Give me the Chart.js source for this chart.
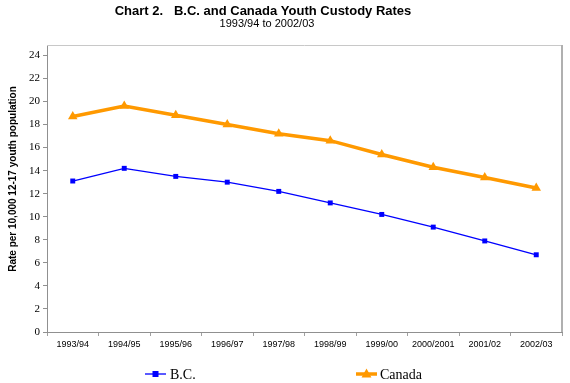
<!DOCTYPE html>
<html>
<head>
<meta charset="utf-8">
<script src="https://cdn.jsdelivr.net/npm/chart.js@4/dist/chart.umd.min.js"></script>
<style>
html,body{margin:0;padding:0;background:#fff;}
#wrap{width:570px;height:383px;position:relative;}
</style>
</head>
<body>
<div id="wrap"><canvas id="c" width="570" height="383"></canvas></div>
<script>
const categories = ["1993/94","1994/95","1995/96","1996/97","1997/98","1998/99","1999/00","2000/2001","2001/02","2002/03"];
const bcValues = [13.1, 14.2, 13.5, 13.0, 12.2, 11.2, 10.2, 9.1, 7.9, 6.7];
const canadaValues = [18.7, 19.6, 18.8, 18.0, 17.2, 16.6, 15.4, 14.3, 13.4, 12.5];
const yTickValues = [0, 2, 4, 6, 8, 10, 12, 14, 16, 18, 20, 22, 24];
const titleText = "Chart 2.   B.C. and Canada Youth Custody Rates";
const subtitleText = "1993/94 to 2002/03";
const yTitleText = "Rate per 10,000 12-17 youth population";

function drawMarker(ctx, style, x, y, r, color) {
  ctx.save();
  ctx.fillStyle = color;
  ctx.beginPath();
  if (style === 'rect') {
    ctx.rect(x - r, y - r, 2 * r, 2 * r);
  } else {
    ctx.moveTo(x, y - r * 1.2);
    ctx.lineTo(x + r * 1.1, y + r * 0.75);
    ctx.lineTo(x - r * 1.1, y + r * 0.75);
    ctx.closePath();
  }
  ctx.fill();
  ctx.restore();
}

const decor = {
  id: 'decor',
  beforeDraw(chart) {
    const ctx = chart.ctx;
    ctx.save();
    ctx.fillStyle = '#fff';
    ctx.fillRect(0, 0, chart.width, chart.height);
    ctx.restore();
  },
  beforeDatasetsDraw(chart) {
    const ctx = chart.ctx, a = chart.chartArea;
    ctx.save();
    ctx.strokeStyle = '#c8c8c8';
    ctx.lineWidth = 1;
    ctx.beginPath();
    ctx.moveTo(a.left, a.top + 0.5);
    ctx.lineTo(a.right, a.top + 0.5);
    ctx.stroke();
    ctx.strokeStyle = '#b0b0b0';
    ctx.lineWidth = 2;
    ctx.beginPath();
    ctx.moveTo(a.right, a.top);
    ctx.lineTo(a.right, a.bottom);
    ctx.stroke();
    ctx.restore();
  },
  afterDraw(chart) {
    const ctx = chart.ctx;
    ctx.save();
    ctx.fillStyle = '#000';
    ctx.textAlign = 'center';
    ctx.textBaseline = 'middle';
    ctx.font = 'bold 13px "Liberation Sans", Arial, sans-serif';
    ctx.fillText(titleText, 263, 11);
    ctx.font = '11px "Liberation Sans", Arial, sans-serif';
    ctx.fillText(subtitleText, 267, 24);
    // y title
    ctx.save();
    ctx.translate(13, 179);
    ctx.rotate(-Math.PI / 2);
    ctx.font = 'bold 10px "Liberation Sans", Arial, sans-serif';
    ctx.fillText(yTitleText, 0, 0);
    ctx.restore();
    // legend
    const items = [
      { ds: chart.data.datasets[0], x0: 145, x1: 166, tx: 170, marker: 'rect', r: 3 },
      { ds: chart.data.datasets[1], x0: 356, x1: 377, tx: 380, marker: 'triangle', r: 4.5 }
    ];
    const ly = 374;
    items.forEach(it => {
      ctx.strokeStyle = it.ds.borderColor;
      ctx.lineWidth = it.ds.borderWidth;
      ctx.beginPath();
      ctx.moveTo(it.x0, ly);
      ctx.lineTo(it.x1, ly);
      ctx.stroke();
      drawMarker(ctx, it.marker, (it.x0 + it.x1) / 2, ly, it.r, it.ds.borderColor);
      ctx.fillStyle = '#000';
      ctx.textAlign = 'left';
      ctx.font = '14px "Liberation Serif", "Times New Roman", serif';
      ctx.fillText(it.ds.label, it.tx, ly + 1);
    });
    ctx.restore();
  }
};

new Chart(document.getElementById('c'), {
  type: 'line',
  data: {
    labels: categories,
    datasets: [
      {
        label: 'B.C.',
        data: bcValues,
        borderColor: '#0000FF',
        backgroundColor: '#0000FF',
        borderWidth: 1.3,
        pointStyle: 'rect',
        pointRadius: 3.5,
        pointBorderWidth: 0,
        tension: 0
      },
      {
        label: 'Canada',
        data: canadaValues,
        borderColor: '#FF9900',
        backgroundColor: '#FF9900',
        borderWidth: 3.5,
        pointStyle: 'triangle',
        pointRadius: 5.5,
        pointBorderWidth: 0,
        tension: 0
      }
    ]
  },
  options: {
    responsive: false,
    animation: false,
    devicePixelRatio: 1,
    layout: { padding: { top: 45, left: 0, right: 8, bottom: 0 } },
    plugins: {
      legend: { display: false },
      title: { display: false },
      tooltip: { enabled: false }
    },
    scales: {
      x: {
        offset: true,
        grid: { offset: true, drawOnChartArea: false, tickLength: 4, color: '#a0a0a0' },
        border: { display: true, color: '#909090', width: 1 },
        ticks: {
          color: '#000',
          padding: 3,
          maxRotation: 0,
          autoSkip: false,
          font: { family: '"Liberation Sans", Arial, sans-serif', size: 9 }
        },
        afterFit(scale) { scale.height = 51; }
      },
      y: {
        min: 0,
        max: 24.9,
        afterBuildTicks(scale) {
          scale.ticks = yTickValues.map(v => ({ value: v }));
        },
        grid: { drawOnChartArea: false, tickLength: 4, color: '#909090' },
        border: { display: true, color: '#909090', width: 1 },
        ticks: {
          color: '#000',
          padding: 3,
          font: { family: '"Liberation Serif", "Times New Roman", serif', size: 11 }
        },
        afterFit(scale) { scale.width = 47; }
      }
    }
  },
  plugins: [decor]
});
</script>
</body>
</html>
